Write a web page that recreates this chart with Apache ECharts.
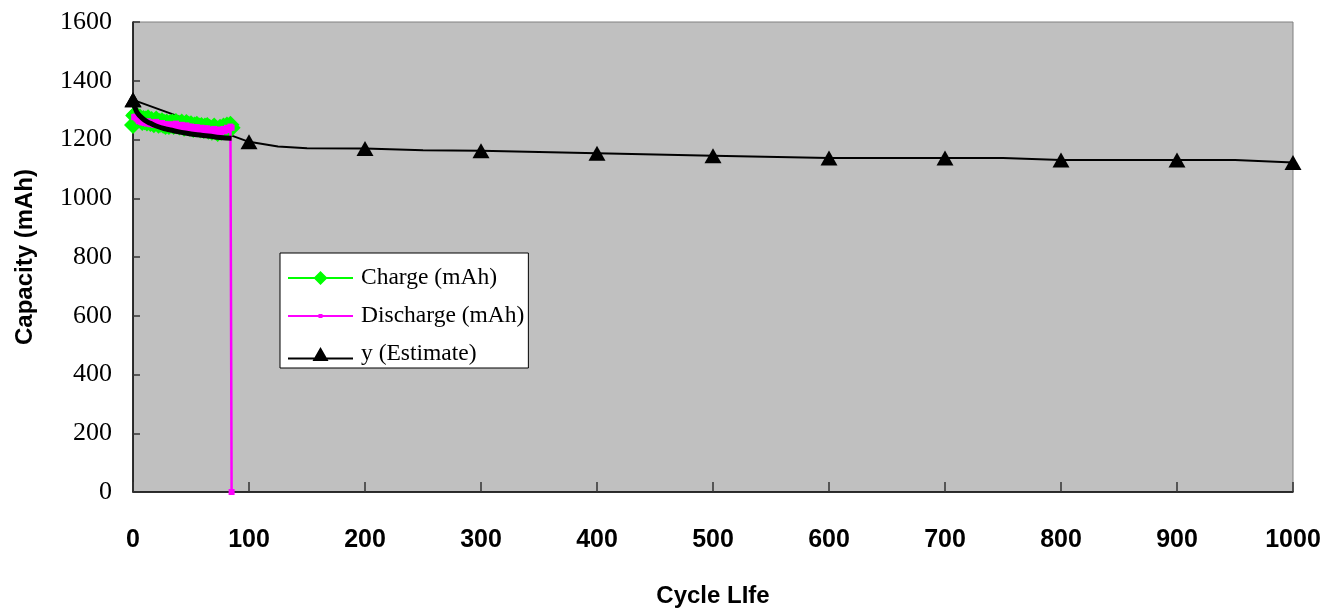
<!DOCTYPE html>
<html>
<head>
<meta charset="utf-8">
<script src="https://cdn.jsdelivr.net/npm/echarts@6/dist/echarts.min.js"></script>
<style>
html,body{margin:0;padding:0;background:#fff;}
#chart{width:1328px;height:613px;}
</style>
</head>
<body>
<div id="chart"></div>
<script>
// Charge capacity (mAh), cycles 0..85
var chargeValues = [1249,1282,1286,1279,1272,1268,1275,1265,1260,1270,
  1262,1268,1258,1272,1264,1256,1266,1260,1252,1262,
  1268,1257,1250,1260,1254,1262,1250,1256,1246,1258,
  1252,1246,1256,1250,1258,1246,1254,1260,1248,1254,
  1244,1252,1258,1246,1240,1250,1256,1244,1250,1240,
  1252,1246,1236,1248,1242,1250,1238,1244,1234,1246,
  1240,1232,1244,1236,1246,1230,1240,1234,1226,1238,
  1244,1228,1236,1222,1232,1240,1226,1234,1244,1232,
  1240,1248,1236,1244,1250,1240];
var chargeStartCycle = 0;

// Discharge capacity (mAh), cycles 1..85, then drop to 0 at cycle 85
var dischargeValues = [1276,1278,1272,1268,1262,1266,1260,1258,1262,1256,
  1260,1254,1262,1258,1252,1258,1254,1250,1256,1260,
  1252,1248,1254,1250,1256,1248,1252,1246,1252,1248,
  1244,1250,1246,1252,1244,1248,1254,1244,1248,1242,
  1246,1250,1242,1238,1244,1248,1240,1244,1238,1244,
  1240,1234,1242,1238,1242,1234,1238,1232,1240,1236,
  1230,1238,1232,1238,1228,1234,1230,1224,1232,1236,
  1226,1230,1222,1228,1234,1224,1230,1236,1228,1234,
  1240,1232,1238,1244,1240];
var dischargeStartCycle = 1;
var dischargeEnd = [85, 0];

// Fitted curve over measured cycles
var fitX = [1,3,6,10,15,20,28,35,45,55,65,75,85];
var fitY = [1318,1296,1280,1266,1255,1246,1236,1230,1222,1216,1212,1207,1204];

// y (Estimate)
var estX = [0,100,125,150,200,250,300,400,500,600,700,750,800,900,950,1000];
var estY = [1335,1192,1176,1170,1169,1163,1162,1153,1145,1137,1137,1137,1130,1130,1130,1122];

// Axis ticks
var xTicks = {min:0, max:1000, interval:100};
var yTicks = {min:0, max:1600, interval:200};

var chargeData = chargeValues.map(function(v,i){return [chargeStartCycle+i, v];});
var dischargeData = dischargeValues.map(function(v,i){return [dischargeStartCycle+i, v];});
dischargeData.push(dischargeEnd);
var fitData = fitX.map(function(x,i){return [x, fitY[i]];});
var estData = estX.map(function(x,i){
  var d = {value:[x, estY[i]]};
  if (x % 100 !== 0) d.symbol = 'none';
  return d;
});

// legend icons (65 x 14 box): line + marker
var corners = 'M0,0 L0.01,0 L0,0.01 Z M65,14 L64.99,14 L65,13.99 Z ';
var iconCharge = 'path://' + corners + 'M0,6 L65,6 L65,8 L0,8 Z M32.5,0 L39.5,7 L32.5,14 L25.5,7 Z';
var iconDischarge = 'path://' + corners + 'M0,6 L65,6 L65,8 L0,8 Z M30.5,5 L34.5,5 L34.5,9 L30.5,9 Z';
var iconEst = 'path://' + corners + 'M0,10.5 L65,10.5 L65,12.5 L0,12.5 Z M32.5,0 L40.5,14 L24.5,14 Z';

var chart = echarts.init(document.getElementById('chart'), null, {renderer:'canvas'});
chart.setOption({
  animation: false,
  backgroundColor: '#ffffff',
  grid: {left:133, right:35, top:22, bottom:121, show:true,
    backgroundColor:'#c0c0c0', borderColor:'#808080', borderWidth:1},
  legend: {
    orient:'vertical', left:280, top:253,
    data:[
      {name:'Charge (mAh)', icon:iconCharge},
      {name:'Discharge (mAh)', icon:iconDischarge},
      {name:'y (Estimate)', icon:iconEst}
    ],
    backgroundColor:'#ffffff', borderColor:'#000000', borderWidth:1, borderRadius:0,
    padding:[13,4,2,8], itemGap:14, itemWidth:65, itemHeight:14,
    textStyle:{fontFamily:'Liberation Serif', fontSize:23.5, color:'#000', padding:[0,0,0,3]}
  },
  xAxis: {
    type:'value', min:xTicks.min, max:xTicks.max, interval:xTicks.interval,
    name:'Cycle LIfe', nameLocation:'middle', nameGap:92,
    nameTextStyle:{fontFamily:'Liberation Sans', fontWeight:'bold', fontSize:24, color:'#000'},
    axisLine:{show:true, lineStyle:{color:'#000', width:1.5}},
    axisTick:{show:true, inside:true, length:10, lineStyle:{color:'#333', width:1.5}},
    axisLabel:{fontFamily:'Liberation Sans', fontWeight:'bold', fontSize:25, color:'#000', margin:36,
      formatter:function(v){return String(v);}},
    splitLine:{show:false}
  },
  yAxis: {
    type:'value', min:yTicks.min, max:yTicks.max, interval:yTicks.interval,
    name:'Capacity (mAh)', nameLocation:'middle', nameGap:96, nameRotate:90,
    nameTextStyle:{fontFamily:'Liberation Sans', fontWeight:'bold', fontSize:24, color:'#000'},
    axisLine:{show:true, lineStyle:{color:'#000', width:1.5}},
    axisTick:{show:true, inside:true, length:7, lineStyle:{color:'#333', width:1.5}},
    axisLabel:{fontFamily:'Liberation Serif', fontSize:26, color:'#000', margin:21,
      formatter:function(v){return String(v);}},
    splitLine:{show:false}
  },
  series: [
    {
      name:'y (Estimate)', type:'line', data:estData,
      symbol:'triangle', symbolSize:[17,15], showAllSymbol:true,
      lineStyle:{color:'#000', width:2}, itemStyle:{color:'#000'}, z:2
    },
    {
      name:'Charge (mAh)', type:'line', data:chargeData,
      symbol:'diamond', symbolSize:18, showAllSymbol:true,
      lineStyle:{color:'#00ff00', width:2}, itemStyle:{color:'#00ff00'}, z:3
    },
    {
      name:'Discharge (mAh)', type:'line', data:dischargeData,
      symbol:'rect', symbolSize:6, showAllSymbol:true,
      lineStyle:{color:'#ff00ff', width:2.5}, itemStyle:{color:'#ff00ff'}, z:4
    },
    {
      name:'fit', type:'line', data:fitData, symbol:'none', smooth:true,
      lineStyle:{color:'#000', width:5}, z:5, silent:true
    },
    {
      name:'y (Estimate) marker0', type:'line', data:[estData[0]],
      symbol:'triangle', symbolSize:[17,15],
      itemStyle:{color:'#000'}, z:6, silent:true
    }
  ]
});
</script>
</body>
</html>
